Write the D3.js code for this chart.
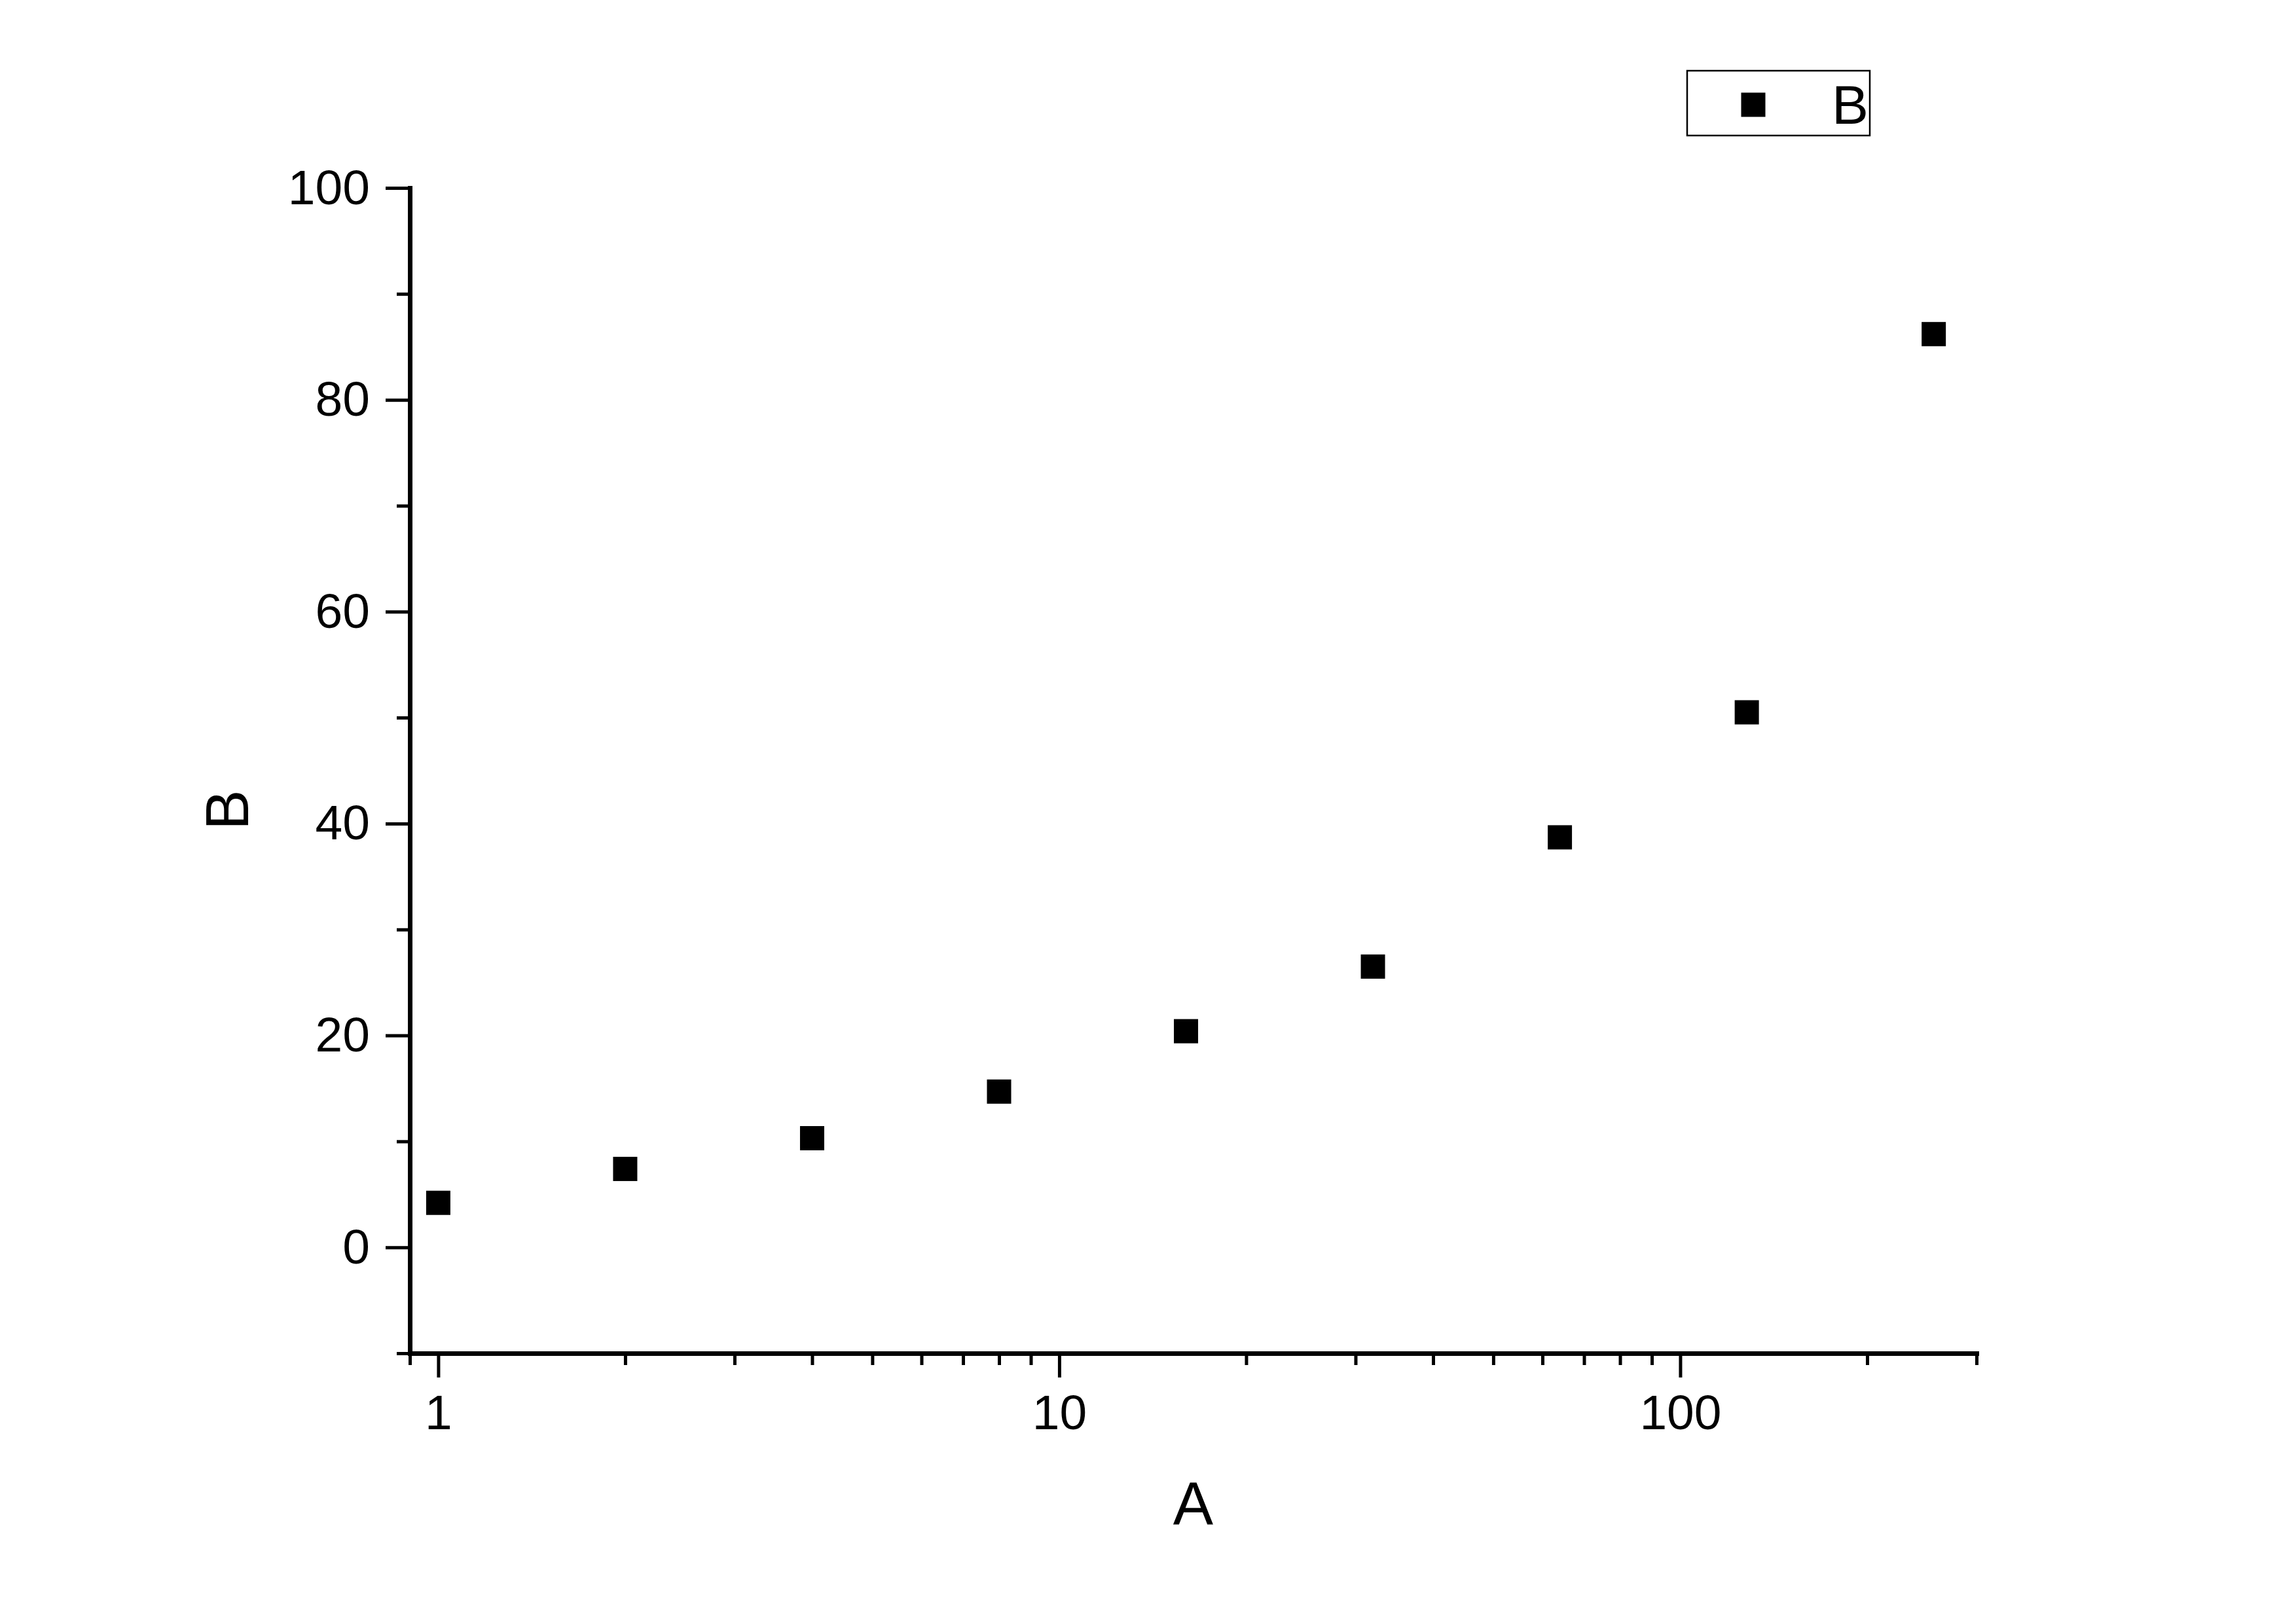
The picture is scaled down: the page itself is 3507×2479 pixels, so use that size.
<!DOCTYPE html>
<html>
<head>
<meta charset="utf-8">
<script src="https://cdn.jsdelivr.net/npm/d3@7"></script>
<style>
    body { margin: 0; background: #fff; }
    text { font-family: "Liberation Sans", Arial, sans-serif; fill: #000; }
</style>
</head>
<body>
<div id="chart"></div>
<script>
// data
let xValues = [1, 2, 4, 8, 16, 32, 64, 128, 256];
let yValues = [4.2, 7.4, 10.3, 14.7, 20.4, 26.5, 38.7, 50.5, 86.2];
let seriesName = "B";

let xMajorTicks = [1, 10, 100];
let xMinorTicks = [0.9, 2, 3, 4, 5, 6, 7, 8, 9, 20, 30, 40, 50, 60, 70, 80, 90, 200, 300];
let yMajorTicks = [0, 20, 40, 60, 80, 100];
let yMinorTicks = [-10, 10, 30, 50, 70, 90];

let W = 3507, H = 2479;

let svg = d3.select("#chart").append("svg")
    .attr("width", W)
    .attr("height", H);

let x = d3.scaleLog()
    .domain([0.9, 300])
    .range([626, 3019]);

let y = d3.scaleLinear()
    .domain([-10, 100])
    .range([2067, 287]);

// x axis
let xAxisG = svg.append("g")
    .attr("transform", `translate(0, ${y(-10)})`);

xAxisG.append("g")
    .call(d3.axisBottom(x).tickValues(xMinorTicks).tickSize(18).tickSizeOuter(0).tickFormat(""))
    .call(g => g.select(".domain").remove());

xAxisG.append("g")
    .attr("class", "xmajor")
    .call(d3.axisBottom(x).tickValues(xMajorTicks).tickSize(37).tickSizeOuter(0)
        .tickPadding(26).tickFormat(d3.format("d")));

// y axis
let yAxisG = svg.append("g")
    .attr("transform", `translate(${x(0.9)}, 0)`);

yAxisG.append("g")
    .call(d3.axisLeft(y).tickValues(yMinorTicks).tickSize(20).tickSizeOuter(0).tickFormat(""))
    .call(g => g.select(".domain").remove());

yAxisG.append("g")
    .attr("class", "ymajor")
    .call(d3.axisLeft(y).tickValues(yMajorTicks).tickSize(37).tickSizeOuter(0)
        .tickPadding(24));

svg.selectAll(".domain")
    .attr("stroke", "#000")
    .attr("stroke-width", 7)
    .attr("stroke-linecap", "square");
svg.selectAll(".tick line")
    .attr("stroke", "#000")
    .attr("stroke-width", 5);
svg.selectAll(".tick text")
    .style("font-size", "75px")
    .attr("fill", "#000");

// axis titles
svg.append("text")
    .attr("x", (x.range()[0] + x.range()[1]) / 2)
    .attr("y", 2329)
    .attr("text-anchor", "middle")
    .style("font-size", "92px")
    .text("A");

svg.append("text")
    .attr("transform", "translate(379, 1237) rotate(-90)")
    .attr("text-anchor", "middle")
    .style("font-size", "92px")
    .text(seriesName);

// points
let size = 37;
svg.selectAll(".pt")
    .data(xValues.map((d, i) => ({x: d, y: yValues[i]})))
    .enter()
    .append("rect")
    .attr("class", "pt")
    .attr("x", d => x(d.x) - size / 2)
    .attr("y", d => y(d.y) - size / 2)
    .attr("width", size)
    .attr("height", size)
    .attr("fill", "#000");

// legend
let legend = svg.append("g");
legend.append("rect")
    .attr("x", 2577)
    .attr("y", 108)
    .attr("width", 279)
    .attr("height", 99)
    .attr("fill", "none")
    .attr("stroke", "#000")
    .attr("stroke-width", 2.5);
legend.append("rect")
    .attr("x", 2678 - size / 2)
    .attr("y", 160 - size / 2)
    .attr("width", size)
    .attr("height", size)
    .attr("fill", "#000");
legend.append("text")
    .attr("x", 2798)
    .attr("y", 189)
    .style("font-size", "84px")
    .text(seriesName);
</script>
</body>
</html>
